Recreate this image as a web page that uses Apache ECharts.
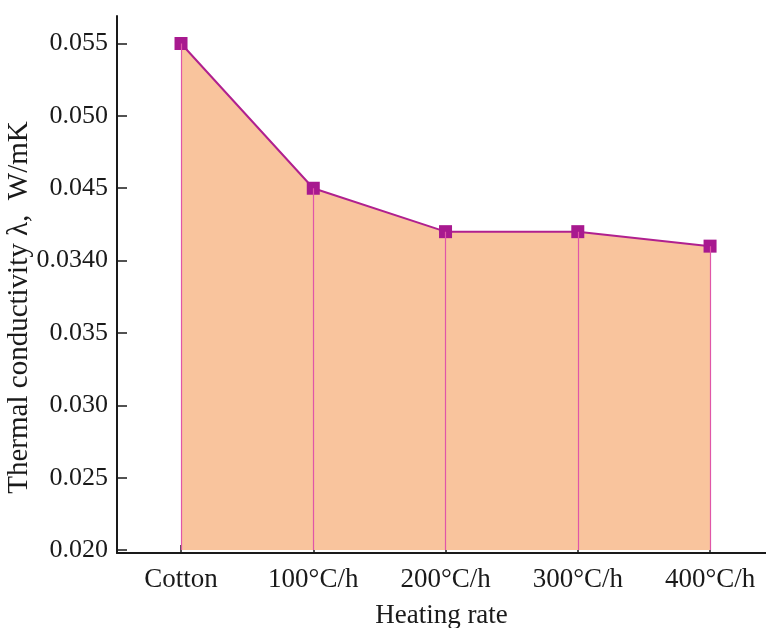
<!DOCTYPE html>
<html>
<head>
<meta charset="utf-8">
<script src="https://cdn.jsdelivr.net/npm/echarts@6/dist/echarts.min.js"></script>
<style>
  html, body { margin: 0; padding: 0; background: #fff; }
  #chart { width: 766px; height: 628px; }
</style>
</head>
<body>
<div id="chart"></div>
<script>
// data
const categories = ['Cotton', '100°C/h', '200°C/h', '300°C/h', '400°C/h']
const conductivity = [0.055, 0.045, 0.042, 0.042, 0.041]
const yTicks = [0.020, 0.025, 0.030, 0.035, 0.040, 0.045, 0.050, 0.055]
const yTickLabels = ['0.020', '0.025', '0.030', '0.035', '0.0340', '0.045', '0.050', '0.055']
const xTicks = [0, 1, 2, 3, 4]

const chart = echarts.init(document.getElementById('chart'))
const serif = "'Liberation Serif', 'DejaVu Serif', serif"
const axisColor = '#1a1a1a'
const fillBase = 0.020

const points = categories.map((c, i) => [i, conductivity[i]])

chart.setOption({
  animation: false,
  grid: { left: 117, right: 0, top: 16, bottom: 75, containLabel: false, outerBoundsMode: 'none' },
  xAxis: {
    type: 'value',
    min: -0.484,
    max: 4.423,
    name: 'Heating rate',
    nameLocation: 'middle',
    nameGap: 49,
    nameMoveOverlap: false,
    nameTextStyle: { fontFamily: serif, fontSize: 27, color: axisColor },
    splitLine: { show: false },
    axisLine: { show: true, onZero: false, lineStyle: { color: axisColor, width: 2 } },
    axisTick: { show: true, inside: true, length: 8, customValues: xTicks, lineStyle: { color: axisColor, width: 1.5 } },
    axisLabel: {
      customValues: xTicks,
      margin: 13,
      fontFamily: serif,
      fontSize: 27,
      color: axisColor,
      formatter: (v) => categories[Math.round(v)] || ''
    }
  },
  yAxis: {
    type: 'value',
    min: 0.0198,
    max: 0.0569,
    name: 'Thermal conductivity λ,  W/mK',
    nameLocation: 'middle',
    nameGap: 83,
    nameMoveOverlap: false,
    nameTextStyle: { fontFamily: serif, fontSize: 29, color: axisColor, padding: [0, 46, 0, 0] },
    splitLine: { show: false },
    axisLine: { show: true, onZero: false, lineStyle: { color: axisColor, width: 2 } },
    axisTick: { show: true, inside: true, length: 10, customValues: yTicks, lineStyle: { color: axisColor, width: 1.5 } },
    axisLabel: {
      customValues: yTicks,
      margin: 9,
      fontFamily: serif,
      fontSize: 26,
      color: axisColor,
      formatter: (v) => {
        const i = yTicks.findIndex(t => Math.abs(t - v) < 1e-7)
        return i >= 0 ? yTickLabels[i] : ''
      }
    }
  },
  series: [
    {
      type: 'line',
      data: points,
      symbol: 'rect',
      symbolSize: 13,
      itemStyle: { color: '#a8198f' },
      lineStyle: { color: '#b0208f', width: 2 },
      areaStyle: { color: '#f9c49d', opacity: 1, origin: fillBase },
      markLine: {
        silent: true,
        symbol: 'none',
        label: { show: false },
        lineStyle: { color: '#e056a8', width: 1.2, type: 'solid' },
        data: points.map(p => [{ coord: [p[0], p[1]] }, { coord: [p[0], fillBase] }])
      },
      z: 3
    }
  ]
})
</script>
</body>
</html>
